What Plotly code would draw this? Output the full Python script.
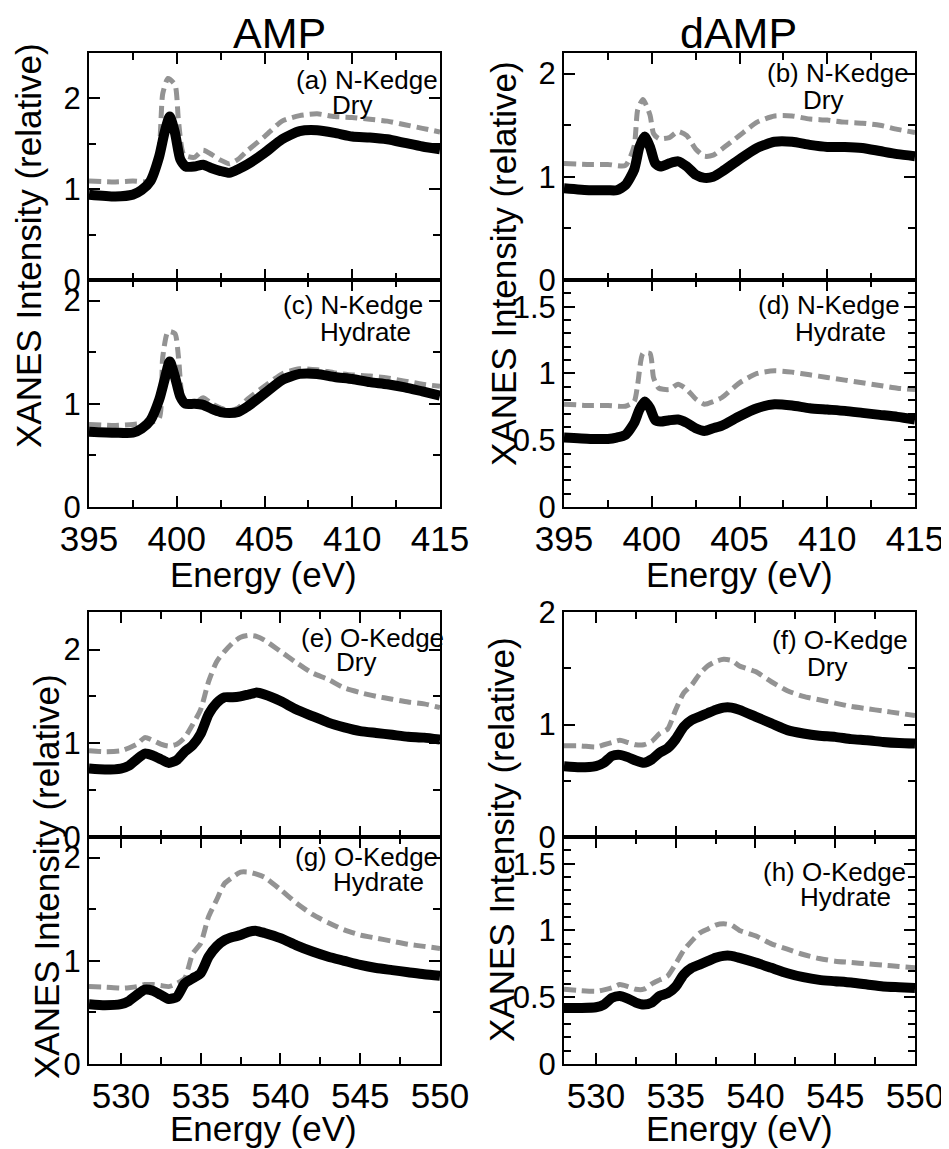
import plotly.graph_objects as go

# ---------------- data ----------------
# N K-edge energies (eV)
E_N_black = [395, 396.5, 397.5, 398, 398.5, 399, 399.3, 399.6, 399.9, 400.2, 400.5, 401, 401.5,
             402, 402.5, 403, 403.5, 404, 405, 406, 407, 408, 409, 410, 411, 412, 413, 414, 415]
E_N_gray = [395, 396.5, 397.5, 398.5, 399.0, 399.2, 399.5, 399.9, 400.1, 400.4, 401, 401.5, 402,
            402.5, 403, 403.5, 404, 405, 406, 407, 408, 409, 410, 411, 412, 413, 414, 415]
# O K-edge energies (eV)
E_O = [528, 529, 530, 530.5, 531, 531.5, 532, 532.5, 533, 533.5, 534, 534.5, 535, 535.5, 536,
       536.5, 537, 537.5, 538, 538.5, 539, 540, 541, 542, 543, 544, 545, 546, 547, 548, 549, 550]

# (a) AMP N-edge Dry
a_black = [0.94, 0.92, 0.94, 0.99, 1.09, 1.36, 1.62, 1.80, 1.62, 1.33, 1.25, 1.25, 1.27, 1.23, 1.20,
           1.18, 1.22, 1.27, 1.40, 1.55, 1.64, 1.65, 1.62, 1.58, 1.57, 1.55, 1.51, 1.47, 1.44]
a_gray = [1.09, 1.08, 1.09, 1.09, 1.45, 2.05, 2.22, 2.15, 1.75, 1.38, 1.35, 1.43, 1.38, 1.32, 1.28,
          1.33, 1.42, 1.58, 1.75, 1.81, 1.83, 1.80, 1.79, 1.77, 1.75, 1.71, 1.67, 1.63]
# (b) dAMP N-edge Dry
b_black = [0.89, 0.87, 0.87, 0.87, 0.92, 1.07, 1.29, 1.39, 1.29, 1.13, 1.10, 1.13, 1.15, 1.10, 1.02,
           0.99, 1.00, 1.05, 1.17, 1.28, 1.34, 1.34, 1.31, 1.29, 1.29, 1.28, 1.25, 1.22, 1.20]
b_gray = [1.13, 1.12, 1.12, 1.11, 1.30, 1.65, 1.75, 1.60, 1.42, 1.37, 1.38, 1.44, 1.40, 1.27, 1.20,
          1.21, 1.27, 1.40, 1.53, 1.59, 1.59, 1.56, 1.55, 1.53, 1.52, 1.50, 1.46, 1.43]
# (c) AMP N-edge Hydrate
c_black = [0.73, 0.72, 0.72, 0.76, 0.84, 1.04, 1.23, 1.41, 1.26, 1.07, 1.00, 1.00, 0.99, 0.95, 0.92,
           0.91, 0.92, 0.97, 1.10, 1.23, 1.29, 1.29, 1.26, 1.24, 1.21, 1.19, 1.16, 1.12, 1.08]
c_gray = [0.80, 0.79, 0.80, 0.82, 0.86, 1.45, 1.70, 1.68, 1.45, 1.02, 1.00, 1.06, 1.00, 0.96, 0.93,
          0.96, 1.04, 1.17, 1.29, 1.34, 1.33, 1.30, 1.28, 1.27, 1.25, 1.22, 1.19, 1.17]
# (d) dAMP N-edge Hydrate
d_black = [0.52, 0.51, 0.51, 0.52, 0.54, 0.63, 0.73, 0.79, 0.74, 0.65, 0.64, 0.65, 0.655, 0.63, 0.59,
           0.57, 0.59, 0.61, 0.68, 0.74, 0.77, 0.76, 0.74, 0.73, 0.72, 0.705, 0.69, 0.675, 0.655]
d_gray = [0.77, 0.76, 0.76, 0.755, 0.79, 0.92, 1.15, 1.15, 0.97, 0.89, 0.88, 0.92, 0.88, 0.81, 0.77,
          0.79, 0.82, 0.93, 1.00, 1.02, 1.01, 0.99, 0.97, 0.95, 0.93, 0.91, 0.89, 0.88]
# (e) AMP O-edge Dry
e_black = [0.73, 0.72, 0.73, 0.76, 0.83, 0.89, 0.87, 0.83, 0.79, 0.82, 0.91, 0.98, 1.10, 1.31, 1.43,
           1.49, 1.49, 1.50, 1.52, 1.54, 1.52, 1.45, 1.36, 1.29, 1.22, 1.17, 1.13, 1.11, 1.09, 1.07,
           1.06, 1.04]
e_gray = [0.92, 0.91, 0.92, 0.95, 0.99, 1.06, 1.03, 0.99, 0.97, 0.99, 1.06, 1.20, 1.36, 1.66, 1.87,
          1.98, 2.07, 2.13, 2.15, 2.14, 2.10, 1.98, 1.86, 1.75, 1.68, 1.59, 1.54, 1.50, 1.47, 1.44,
          1.42, 1.38]
# (f) dAMP O-edge Dry
f_black = [0.63, 0.62, 0.63, 0.66, 0.72, 0.73, 0.71, 0.68, 0.66, 0.69, 0.75, 0.79, 0.87, 0.98, 1.04,
           1.07, 1.10, 1.13, 1.15, 1.15, 1.13, 1.07, 1.01, 0.95, 0.92, 0.90, 0.89, 0.87, 0.86, 0.845,
           0.835, 0.83]
f_gray = [0.81, 0.81, 0.80, 0.82, 0.84, 0.86, 0.84, 0.82, 0.82, 0.85, 0.92, 0.96, 1.13, 1.28, 1.35,
          1.45, 1.52, 1.56, 1.58, 1.57, 1.52, 1.47, 1.38, 1.30, 1.25, 1.22, 1.19, 1.16, 1.14, 1.12,
          1.10, 1.08]
# (g) AMP O-edge Hydrate
g_black = [0.58, 0.57, 0.58, 0.61, 0.67, 0.72, 0.71, 0.67, 0.63, 0.65, 0.78, 0.83, 0.88, 1.04, 1.14,
           1.20, 1.23, 1.25, 1.28, 1.29, 1.27, 1.22, 1.15, 1.09, 1.04, 1.00, 0.96, 0.93, 0.91, 0.89,
           0.87, 0.855]
g_gray = [0.75, 0.745, 0.735, 0.74, 0.75, 0.77, 0.77, 0.76, 0.75, 0.78, 0.83, 1.07, 1.17, 1.43, 1.59,
          1.75, 1.81, 1.86, 1.86, 1.84, 1.81, 1.69, 1.56, 1.45, 1.37, 1.30, 1.25, 1.22, 1.19, 1.16,
          1.14, 1.12]
# (h) dAMP O-edge Hydrate
h_black = [0.42, 0.42, 0.425, 0.445, 0.495, 0.51, 0.49, 0.46, 0.445, 0.46, 0.51, 0.53, 0.58, 0.67,
           0.72, 0.745, 0.77, 0.795, 0.81, 0.81, 0.795, 0.76, 0.72, 0.68, 0.65, 0.63, 0.62, 0.61,
           0.595, 0.58, 0.575, 0.57]
h_gray = [0.56, 0.55, 0.545, 0.555, 0.57, 0.595, 0.58, 0.56, 0.56, 0.60, 0.63, 0.66, 0.75, 0.85, 0.92,
          0.98, 1.01, 1.04, 1.05, 1.04, 1.00, 0.96, 0.90, 0.86, 0.82, 0.79, 0.77, 0.76, 0.75, 0.74,
          0.73, 0.72]

panel_labels = ["(a) N-Kedge", "(b) N-Kedge", "(c) N-Kedge", "(d) N-Kedge",
                "(e) O-Kedge", "(f) O-Kedge", "(g) O-Kedge", "(h) O-Kedge"]
panel_states = ["Dry", "Dry", "Hydrate", "Hydrate", "Dry", "Dry", "Hydrate", "Hydrate"]
column_titles = ["AMP", "dAMP"]
x_title = "Energy (eV)"
y_title = "XANES Intensity (relative)"

# ---------------- layout geometry ----------------
# the page body has an 8px margin, so the figure is drawn 8px smaller and
# all page-pixel positions are shifted by that offset
OFF = 8
W, H = 949 - OFF, 1149 - OFF
FONT = "Liberation Sans, Arial, Helvetica, sans-serif"

def px_x(p):
    return (p - OFF) / W

def px_y(p):
    return 1 - (p - OFF) / H

col_x = [(89, 440), (564, 915)]
row_y = [(53, 280), (280, 507), (612, 837), (837, 1064)]

panels = [
    # (black x, black y, gray x, gray y, col, row, xrange, yrange, ydtick, yminor)
    (E_N_black, a_black, E_N_gray, a_gray, 0, 0, [395, 415], [0, 2.5], 1, 0.5),
    (E_N_black, b_black, E_N_gray, b_gray, 1, 0, [395, 415], [0, 2.2], 1, 0.5),
    (E_N_black, c_black, E_N_gray, c_gray, 0, 1, [395, 415], [0, 2.2], 1, 0.5),
    (E_N_black, d_black, E_N_gray, d_gray, 1, 1, [395, 415], [0, 1.7], 0.5, 0.1),
    (E_O, e_black, E_O, e_gray, 0, 2, [528, 550], [0, 2.4], 1, 0.5),
    (E_O, f_black, E_O, f_gray, 1, 2, [528, 550], [0, 2.0], 1, 0.5),
    (E_O, g_black, E_O, g_gray, 0, 3, [528, 550], [0, 2.2], 1, 0.5),
    (E_O, h_black, E_O, h_gray, 1, 3, [528, 550], [0, 1.7], 0.5, 0.1),
]

fig = go.Figure()
layout = dict(
    width=W, height=H, margin=dict(l=0, r=0, t=0, b=0, autoexpand=False),
    paper_bgcolor="white", plot_bgcolor="white", showlegend=False,
    font=dict(family=FONT, color="black"),
)

for i, (xb, yb, xg, yg, col, row, xr, yr, ydt, ymin) in enumerate(panels):
    n = i + 1
    xa = "x" if n == 1 else f"x{n}"
    ya = "y" if n == 1 else f"y{n}"
    fig.add_trace(go.Scatter(x=xg, y=yg, xaxis=xa, yaxis=ya, mode="lines",
                             line=dict(color="#939393", width=5, dash="12px,6px",
                                       shape="spline", smoothing=0.6)))
    fig.add_trace(go.Scatter(x=xb, y=yb, xaxis=xa, yaxis=ya, mode="lines",
                             line=dict(color="black", width=10, shape="spline", smoothing=0.6)))
    bottom = row in (1, 3)
    x0, x1 = col_x[col]
    y0, y1 = row_y[row]
    layout["xaxis" if n == 1 else f"xaxis{n}"] = dict(
        domain=[px_x(x0), px_x(x1)], anchor=ya, range=xr, automargin=False,
        showline=True, linecolor="black", linewidth=2, mirror="ticks",
        ticks="inside", ticklen=11, tickwidth=2, tickcolor="black", dtick=5, tick0=0,
        minor=dict(dtick=2.5, ticks="inside", ticklen=7, tickwidth=2, tickcolor="black"),
        showgrid=False, zeroline=False, showticklabels=bottom,
        tickfont=dict(size=35, family=FONT, color="black"),
    )
    layout["yaxis" if n == 1 else f"yaxis{n}"] = dict(
        domain=[px_y(y1), px_y(y0)], anchor=xa, range=yr, automargin=False,
        showline=True, linecolor="black", linewidth=2, mirror="ticks",
        ticks="inside", ticklen=11, tickwidth=2, tickcolor="black", dtick=ydt, tick0=0,
        minor=dict(dtick=ymin, ticks="inside", ticklen=7, tickwidth=2, tickcolor="black"),
        showgrid=False, zeroline=False,
        tickfont=dict(size=31, family=FONT, color="black"),
    )

anns = []
# panel labels (line1 center, line2 center in page pixels)
label_pos = [
    ((367, 80), (352, 105)),
    ((838, 73), (823, 100)),
    ((353, 305), (365, 332)),
    ((829, 305), (840, 332)),
    ((372, 638), (356, 662)),
    ((840, 640), (827, 667)),
    ((366, 857), (378, 882)),
    ((834, 872), (845, 897)),
]
for (p1, p2), t1, t2 in zip(label_pos, panel_labels, panel_states):
    for (px, py), t in ((p1, t1), (p2, t2)):
        anns.append(dict(text=t, x=px_x(px), y=px_y(py), xref="paper", yref="paper",
                         xanchor="center", yanchor="middle", showarrow=False,
                         font=dict(size=26, family=FONT, color="black")))

# column titles
for t, (px, py) in zip(column_titles, [(279, 33), (738, 33)]):
    anns.append(dict(text=t, x=px_x(px), y=px_y(py), xref="paper", yref="paper",
                     xanchor="center", yanchor="middle", showarrow=False,
                     font=dict(size=43, family=FONT, color="black")))

# x axis titles
for (px, py) in [(264, 574), (739, 574), (264, 1128), (739, 1128)]:
    anns.append(dict(text=x_title, x=px_x(px), y=px_y(py), xref="paper", yref="paper",
                     xanchor="center", yanchor="middle", showarrow=False,
                     font=dict(size=35, family=FONT, color="black")))

# y axis titles
for (px, py) in [(28, 246), (503, 264), (46, 877), (501, 840)]:
    anns.append(dict(text=y_title, x=px_x(px), y=px_y(py), xref="paper", yref="paper",
                     xanchor="center", yanchor="middle", showarrow=False, textangle=-90,
                     font=dict(size=35, family=FONT, color="black")))

layout["annotations"] = anns
fig.update_layout(**layout)
fig.write_html("out.html")
